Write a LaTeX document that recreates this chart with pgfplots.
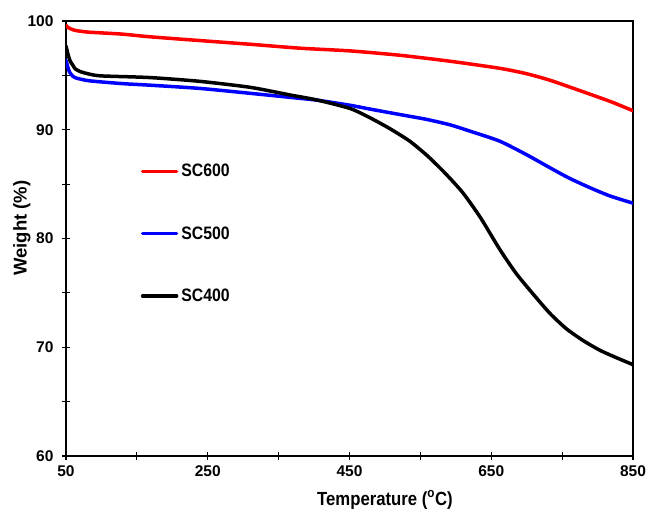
\documentclass[border=0pt]{standalone}
\usepackage{fontspec}
\setmainfont{Liberation Sans}
\newfontfamily\narrowfont{Liberation Sans}[FakeStretch=0.88]
\usepackage{pgfplots}
\pgfplotsset{compat=1.18}
\usepackage{pgfplotstable}
\pgfplotstableread{
T W
50 99.6
53 99.4
62 99.15
81 98.98
128 98.8
168 98.55
239 98.2
310 97.86
380 97.5
451 97.25
521 96.85
592 96.3
662 95.65
700 95.15
733 94.55
775 93.6
818 92.6
850 91.75
}\redtab
\pgfplotstableread{
T W
50 96.4
52 95.9
55 95.3
60 94.9
64 94.76
83 94.5
130 94.24
168 94.1
239 93.8
310 93.35
366 92.98
404 92.72
451 92.25
479 91.9
521 91.4
559 90.95
592 90.45
621 89.85
662 88.95
700 87.7
733 86.5
760 85.55
790 84.65
818 83.9
850 83.25
}\bluetab
\pgfplotstableread{
T W
50 97.7
53 96.9
56 96.3
60 95.9
63 95.6
70 95.35
84 95.1
100 94.95
168 94.8
239 94.45
310 93.9
366 93.2
404 92.74
451 91.95
479 91.1
507 90.1
535 88.95
560 87.6
585 86.0
610 84.2
635 81.9
662 79.0
685 76.8
709 74.9
733 73.1
756 71.7
780 70.6
804 69.7
828 69.0
850 68.4
}\blacktab
\begin{document}
\begin{tikzpicture}
\path[use as bounding box] (-66bp,-58bp) rectangle (581bp,456bp);
\begin{axis}[
  at={(0bp,0bp)}, anchor=south west,
  scale only axis,
  width=567bp, height=435bp,
  xmin=50, xmax=850, ymin=60, ymax=100,
  xtick={50,250,450,650,850},
  ytick={60,70,80,90,100},
  minor xtick={150,350,550,750},
  minor ytick={65,75,85,95},
  xtick pos=bottom, ytick pos=left,
  tick align=center,
  major tick length=8bp, minor tick length=8bp,
  every tick/.style={black, line width=1.2bp},
  axis line style={line width=1.5bp},
  /pgf/number format/assume math mode=true,
  ticklabel style={font=\bfseries\fontsize{15.5bp}{18bp}\selectfont},
  yticklabel style={xshift=-5bp},
  xticklabel style={yshift=-2bp},
  xlabel={Temperature (\textsuperscript{o}C)},
  ylabel={Weight (\%)},
  xlabel style={at={(axis description cs:0.5626,-0.1011)}, anchor=center, font=\narrowfont\bfseries\fontsize{19bp}{22bp}\selectfont},
  ylabel style={at={(axis description cs:-0.0776,0.524)}, anchor=center, font=\bfseries\fontsize{18.5bp}{22bp}\selectfont},
  legend style={draw=none, fill=none, at={(axis description cs:0.1317,0.671)}, anchor=north west, inner sep=0pt, row sep=48.3bp, column sep=3bp, nodes={inner sep=0pt, font=\narrowfont\bfseries\fontsize{18bp}{20bp}\selectfont}},
  legend image code/.code={\draw[#1] (0bp,0bp) -- (34bp,0bp);},
  legend cell align=left,
  every axis plot/.append style={line width=3.5bp, line join=round, line cap=round, smooth, tension=0.4},
]
\addplot[color={rgb,255:red,255;green,0;blue,0}] table[x=T,y=W] {\redtab};
\addlegendentry{SC600}
\addplot[color={rgb,255:red,0;green,0;blue,255}] table[x=T,y=W] {\bluetab};
\addlegendentry{SC500}
\addplot[color=black] table[x=T,y=W] {\blacktab};
\addlegendentry{SC400}
\end{axis}
\end{tikzpicture}
\end{document}
